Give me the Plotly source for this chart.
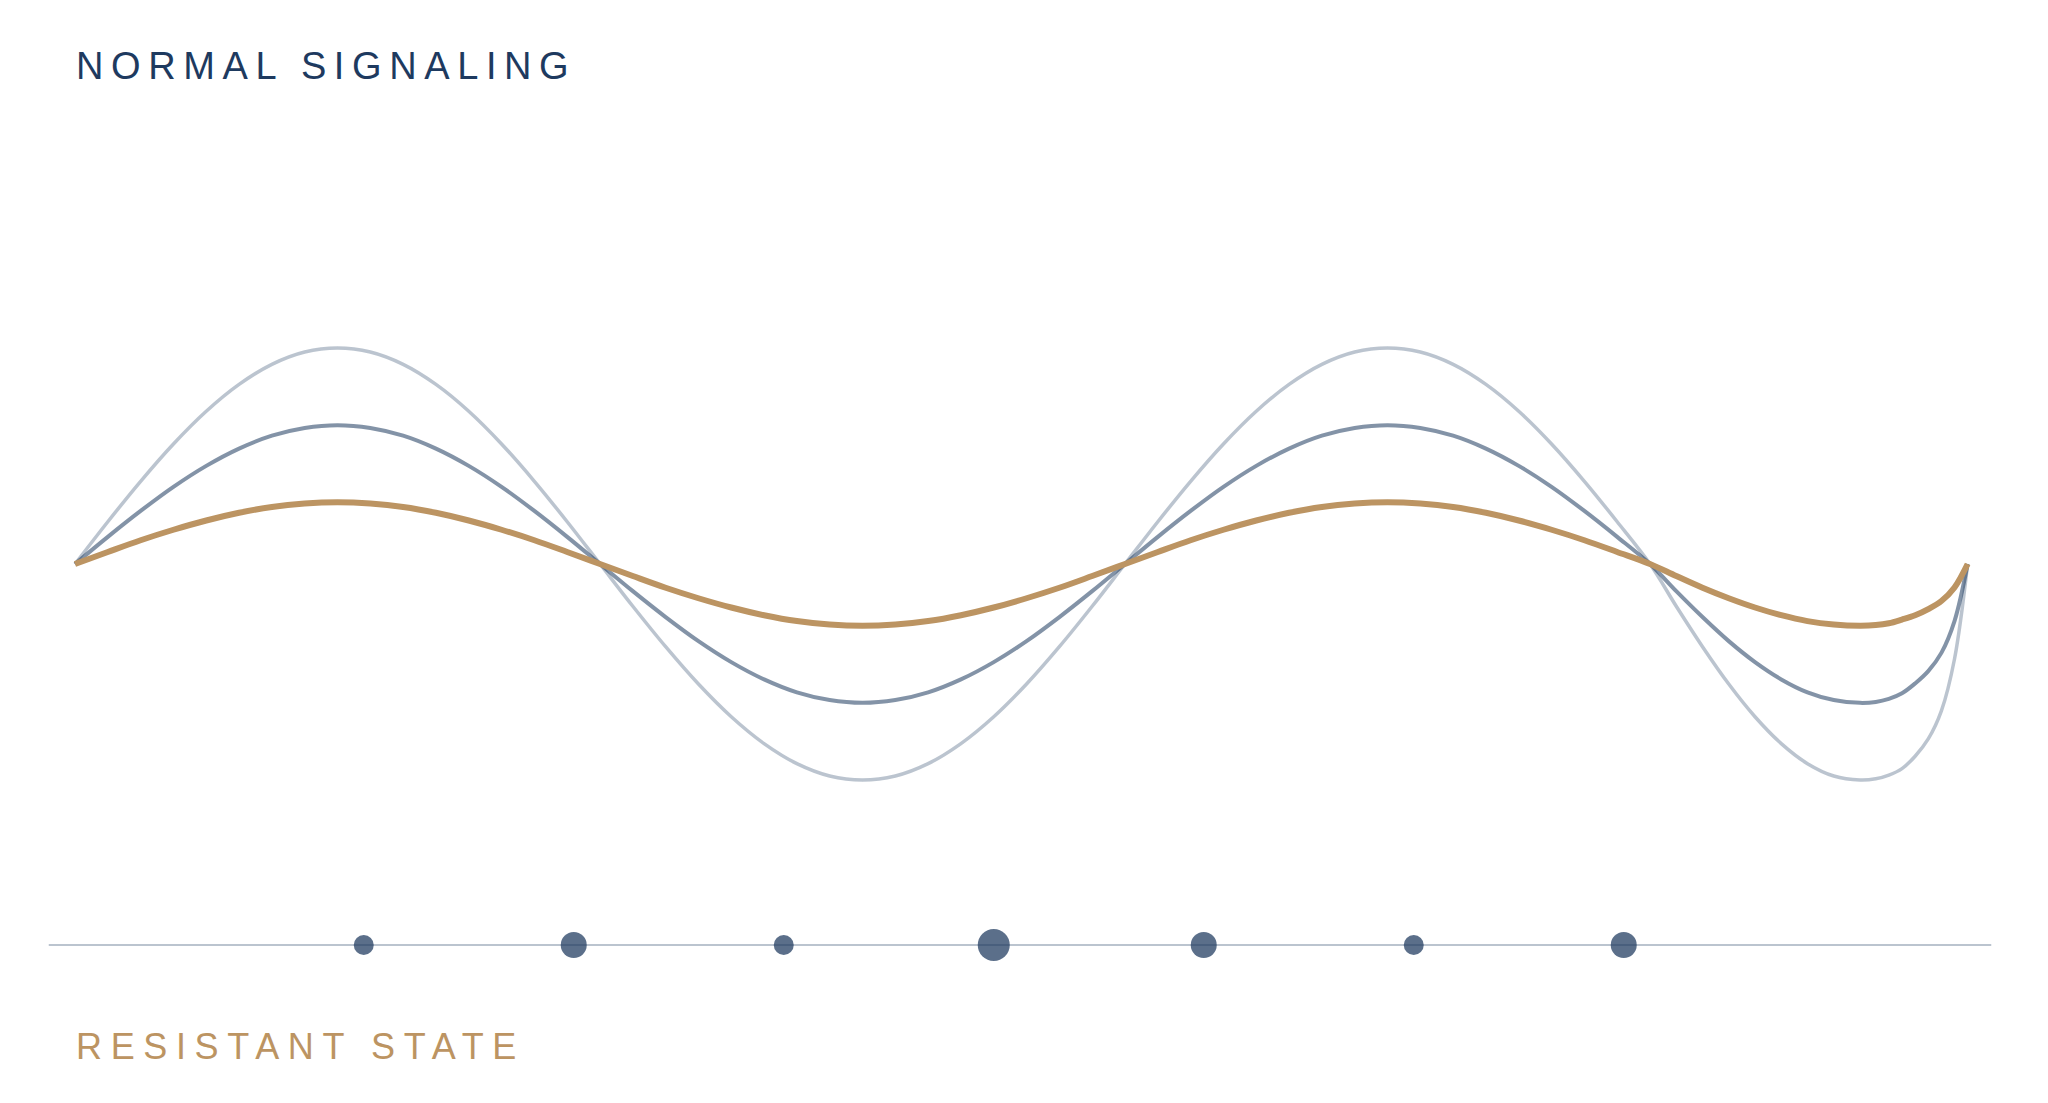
import plotly.graph_objects as go

# ---- data ----
phase = [0, 0.125, 0.25, 0.375, 0.5, 0.625, 0.75, 0.875, 1, 1.125, 1.25, 1.375, 1.5, 1.625, 1.75, 1.875,
         2, 2.125, 2.25, 2.375, 2.5, 2.625, 2.75, 2.875, 3, 3.125, 3.25, 3.375, 3.5, 3.625, 3.75, 3.875,
         4, 4.125, 4.25, 4.375, 4.5, 4.625, 4.75, 4.875, 5, 5.125, 5.25, 5.375, 5.5, 5.625, 5.75, 5.875,
         6, 6.1, 6.2, 6.3, 6.4, 6.5, 6.6, 6.7, 6.8,
         6.86, 6.91, 6.96, 7.01, 7.06, 7.11, 7.16, 7.21]

wave_high = [0, 13.7, 26.8, 38.9, 49.5, 58.2, 64.7, 68.7, 70, 68.7, 64.7, 58.2, 49.5, 38.9, 26.8, 13.7,
             0, -13.7, -26.8, -38.9, -49.5, -58.2, -64.7, -68.7, -70, -68.7, -64.7, -58.2, -49.5, -38.9, -26.8, -13.7,
             0, 13.7, 26.8, 38.9, 49.5, 58.2, 64.7, 68.7, 70, 68.7, 64.7, 58.2, 49.5, 38.9, 26.8, 13.7,
             0, -13.7, -26.8, -38.9, -49.5, -58.2, -64.7, -68.7, -70,
             -69.6, -68.4, -66.3, -62.3, -56.7, -47.6, -30.8, 0]

wave_mid = [0, 8.8, 17.2, 25, 31.8, 37.4, 41.6, 44.1, 45, 44.1, 41.6, 37.4, 31.8, 25, 17.2, 8.8,
            0, -8.8, -17.2, -25, -31.8, -37.4, -41.6, -44.1, -45, -44.1, -41.6, -37.4, -31.8, -25, -17.2, -8.8,
            0, 8.8, 17.2, 25, 31.8, 37.4, 41.6, 44.1, 45, 44.1, 41.6, 37.4, 31.8, 25, 17.2, 8.8,
            0, -8.8, -17.2, -25, -31.8, -37.4, -41.6, -44.1, -45,
            -44.7, -43.7, -41.9, -38.7, -34.7, -28.8, -18.5, 0]

wave_resistant = [0, 3.9, 7.7, 11.1, 14.1, 16.6, 18.5, 19.6, 20, 19.6, 18.5, 16.6, 14.1, 11.1, 7.7, 3.9,
                  0, -3.9, -7.7, -11.1, -14.1, -16.6, -18.5, -19.6, -20, -19.6, -18.5, -16.6, -14.1, -11.1, -7.7, -3.9,
                  0, 3.9, 7.7, 11.1, 14.1, 16.6, 18.5, 19.6, 20, 19.6, 18.5, 16.6, 14.1, 11.1, 7.7, 3.9,
                  0, -3.9, -7.7, -11.1, -14.1, -16.6, -18.5, -19.6, -20,
                  -19.8, -19.2, -18, -16.6, -14.6, -12, -7.6, 0]

dot_x = [1.1, 1.9, 2.7, 3.5, 4.3, 5.1, 5.9]
dot_weight = [1, 2, 1, 3, 2, 1, 2]
track_x = [-0.1, 7.3]

title_top = "NORMAL SIGNALING"
title_bottom = "RESISTANT STATE"

# ---- styles ----
NAVY = "#1e3a5f"
GOLD = "#bc9462"
size_map = {1: 20, 2: 26, 3: 32}
FONT = "Liberation Sans, Arial, sans-serif"

fig = go.Figure()

fig.add_trace(go.Scatter(x=phase, y=wave_high, mode="lines",
                         line=dict(color="rgba(30,58,95,0.3)", width=3.5, shape="spline", smoothing=1),
                         hoverinfo="skip", showlegend=False))
fig.add_trace(go.Scatter(x=phase, y=wave_mid, mode="lines",
                         line=dict(color="rgba(30,58,95,0.55)", width=4, shape="spline", smoothing=1),
                         hoverinfo="skip", showlegend=False))
fig.add_trace(go.Scatter(x=phase, y=wave_resistant, mode="lines",
                         line=dict(color=GOLD, width=6, shape="spline", smoothing=1),
                         hoverinfo="skip", showlegend=False))

# dot track (second y axis)
fig.add_trace(go.Scatter(x=track_x, y=[0, 0], mode="lines", yaxis="y2",
                         line=dict(color="rgba(30,58,95,0.3)", width=2),
                         hoverinfo="skip", showlegend=False))
fig.add_trace(go.Scatter(x=dot_x, y=[0] * len(dot_x), mode="markers", yaxis="y2",
                         marker=dict(size=[size_map[w] for w in dot_weight], opacity=1,
                                     color="rgba(30,58,95,0.73)", line=dict(width=0)),
                         hoverinfo="skip", showlegend=False))

W, H = 2048, 1103
unit_px = 262.5
x0_px = 75
px_per_amp = 216 / 70
base_px = 564
track_px = 945

fig.update_layout(
    width=W, height=H,
    margin=dict(l=0, r=0, t=0, b=0),
    paper_bgcolor="white", plot_bgcolor="white",
    xaxis=dict(range=[-x0_px / unit_px, (W - x0_px) / unit_px], visible=False, fixedrange=True),
    yaxis=dict(range=[-(H - base_px) / px_per_amp, base_px / px_per_amp], domain=[0, 1],
               visible=False, fixedrange=True),
    yaxis2=dict(range=[-1, 1], domain=[1 - track_px / H - 0.04, 1 - track_px / H + 0.04],
                visible=False, fixedrange=True, anchor="x"),
    annotations=[
        dict(text=title_top, xref="paper", yref="paper", x=74 / W, y=1 - 66 / H,
             xanchor="left", yanchor="middle", align="left", showarrow=False,
             font=dict(family=FONT, size=38, color=NAVY)),
        dict(text=title_bottom, xref="paper", yref="paper", x=74 / W, y=1 - 1046 / H,
             xanchor="left", yanchor="middle", align="left", showarrow=False,
             font=dict(family=FONT, size=36, color=GOLD)),
    ],
)

post = """
var gd = document.getElementById('{plot_id}');
gd.querySelectorAll('.annotation-text').forEach(function(t){
  if (t.textContent === 'NORMAL SIGNALING') { t.style.letterSpacing = '0.2em'; }
  if (t.textContent === 'RESISTANT STATE') { t.style.letterSpacing = '0.24em'; }
  t.setAttribute('text-anchor', 'start');
});
"""

fig.write_html("out.html", config={"displayModeBar": False, "staticPlot": True}, post_script=post)
